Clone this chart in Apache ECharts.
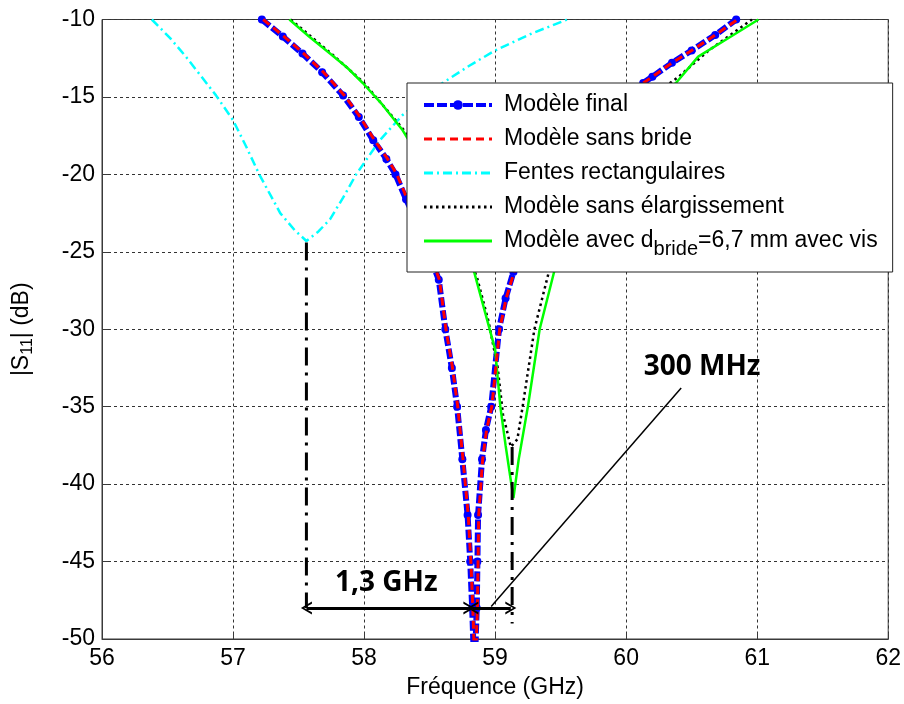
<!DOCTYPE html>
<html>
<head>
<meta charset="utf-8">
<script src="https://cdn.jsdelivr.net/npm/echarts@6/dist/echarts.min.js"></script>
<style>
html,body{margin:0;padding:0;background:#fff;}
#chart{width:904px;height:704px;}
</style>
</head>
<body>
<div id="chart"></div>
<script>
// ---- Data (frequency GHz, |S11| dB) ----
const xTicks = [56, 57, 58, 59, 60, 61, 62];
const yTicks = [-50, -45, -40, -35, -30, -25, -20, -15, -10];

const seriesNames = [
  'Modèle final',
  'Modèle sans bride',
  'Fentes rectangulaires',
  'Modèle sans élargissement',
  'Modèle avec dbride=6,7 mm avec vis'
];

const modeleFinal = [
  [57.22,-10],[57.38,-11.1],[57.53,-12.2],[57.68,-13.4],[57.84,-14.9],[57.96,-16.3],
  [58.07,-17.8],[58.17,-19.0],[58.24,-20],[58.32,-21.6],[58.40,-23.0],[58.48,-24.8],
  [58.57,-26.8],[58.62,-30],[58.67,-32.5],[58.71,-35],[58.75,-38.4],[58.79,-42],
  [58.81,-45],[58.825,-48],[58.835,-50.5],[58.84,-53],
  [58.85,-50.5],[58.86,-48],[58.865,-45],[58.87,-42],[58.90,-38.4],[58.93,-36.5],
  [58.97,-35],[59.03,-30],[59.08,-28],[59.14,-26.3],[59.30,-22.5],[59.50,-19.5],
  [59.75,-17],[60.0,-15.1],[60.13,-14.1],[60.20,-13.7],[60.35,-12.8],[60.50,-12],
  [60.68,-11],[60.84,-10]
];

const modeleSansBride = [
  [57.23,-10],[57.39,-11.1],[57.54,-12.2],[57.69,-13.4],[57.85,-14.9],[57.97,-16.3],
  [58.08,-17.8],[58.18,-19.0],[58.25,-20],[58.33,-21.6],[58.41,-23.0],[58.49,-24.8],
  [58.575,-26.8],[58.625,-30],[58.675,-32.5],[58.715,-35],[58.755,-38.4],[58.795,-42],
  [58.815,-45],[58.83,-48],[58.84,-50.5],[58.845,-53],
  [58.855,-50.5],[58.865,-48],[58.87,-45],[58.875,-42],[58.905,-38.4],[58.935,-36.5],
  [58.975,-35],[59.035,-30],[59.085,-28],[59.145,-26.3],[59.30,-22.5],[59.50,-19.5],
  [59.75,-17],[60.0,-15.1],[60.13,-14.1],[60.20,-13.7],[60.35,-12.8],[60.50,-12],
  [60.68,-11],[60.85,-10]
];

const fentesRect = [
  [56.38,-10],[56.52,-11.2],[56.64,-12.4],[56.76,-13.7],[56.87,-14.9],[57.0,-16.5],
  [57.10,-18.2],[57.20,-20],[57.36,-22.5],[57.47,-23.6],[57.56,-24.3],[57.65,-23.7],
  [57.74,-22.9],[57.84,-21.5],[57.94,-20],[58.03,-18.9],[58.12,-17.8],[58.29,-16.2],
  [58.45,-15.1],[58.60,-14.1],[58.80,-13.0],[59.0,-12],[59.28,-10.9],[59.55,-10]
];

const sansElargissement = [
  [57.44,-10],[57.75,-12.2],[58.00,-14.1],[58.30,-17.1],[58.52,-20.3],[58.72,-23.8],
  [58.86,-26.6],[58.95,-29.5],[59.02,-32.5],[59.06,-35.5],[59.12,-37.6],[59.17,-37.1],
  [59.21,-35],[59.30,-30],[59.41,-26.3],[59.56,-22.5],[59.82,-18.6],[60.08,-15.7],
  [60.40,-13.7],[60.63,-12],[60.96,-10]
];

const avecVis = [
  [57.43,-10],[57.58,-11.1],[57.74,-12.2],[57.87,-13.1],[57.99,-14.1],[58.14,-15.5],
  [58.29,-17.1],[58.50,-20],[58.70,-23.5],[58.84,-26.3],[58.92,-28.8],[59.00,-31.3],
  [59.04,-35],[59.08,-37.5],[59.11,-39.2],[59.14,-40.9],[59.18,-38.4],[59.25,-35],
  [59.34,-30],[59.45,-26.3],[59.60,-22.5],[59.85,-18.8],[60.10,-16],[60.38,-14.1],
  [60.55,-12.4],[60.80,-11.1],[61.01,-10]
];

// ---- Annotations (data units) ----
const markerLine1 = [[57.56,-24.4],[57.56,-48]];
const markerLine2 = [[59.13,-37.6],[59.13,-49]];
const pointerLine = [[60.42,-33.8],[58.97,-47.9]];
const arrow13GHz = [[57.56,-48],[58.80,-48]];
const arrow300MHz = [[58.83,-48],[59.12,-48]];
const annotationLabels = [
  {value:[58.17,-46.4], text:'1,3 GHz'},
  {value:[60.58,-32.45], text:'300 MHz'}
];

const FONT = 'Liberation Sans, Arial, sans-serif';
const FS = 23;
const chevron = 'path://M0,12 L6,0 L12,12 L10,12 L6,3.5 L2,12 Z';
const noSymbol = {color: 'rgba(0,0,0,0)', borderWidth: 0, opacity: 0};

const chart = echarts.init(document.getElementById('chart'), null, {renderer:'canvas'});

const option = {
  backgroundColor: '#ffffff',
  animation: false,
  grid: {
    left: 102, right: 14, top: 19.5, bottom: 63,
    show: true, borderColor: '#3a3a3a', borderWidth: 1, backgroundColor: '#fff'
  },
  xAxis: {
    type: 'value', min: xTicks[0], max: xTicks[xTicks.length-1], interval: 1,
    name: 'Fréquence (GHz)', nameLocation: 'middle', nameGap: 37,
    nameTextStyle: {fontFamily: FONT, fontSize: FS, color: '#000'},
    axisLine: {show: true, lineStyle: {color: '#3a3a3a', width: 1}},
    axisTick: {show: true, inside: true, length: 6, lineStyle: {color: '#3a3a3a'}},
    axisLabel: {fontFamily: FONT, fontSize: FS, color: '#000', margin: 8},
    splitLine: {show: true, lineStyle: {color: '#333', width: 1, type: [3,3]}}
  },
  yAxis: {
    type: 'value', min: yTicks[0], max: yTicks[yTicks.length-1], interval: 5,
    name: '|S{sub|11}| (dB)', nameLocation: 'middle', nameGap: 66, nameRotate: 90,
    nameTextStyle: {
      fontFamily: FONT, fontSize: FS, color: '#000',
      rich: {sub: {fontFamily: FONT, fontSize: 16, color: '#000', padding: [12,0,0,0]}}
    },
    axisLine: {show: true, lineStyle: {color: '#3a3a3a', width: 1}},
    axisTick: {show: true, inside: true, length: 6, lineStyle: {color: '#3a3a3a'}},
    axisLabel: {fontFamily: FONT, fontSize: FS, color: '#000', margin: 7},
    splitLine: {show: true, lineStyle: {color: '#333', width: 1, type: [3,3]}}
  },
  legend: {
    data: [
      {name: seriesNames[0], lineStyle: {width: 4}},
      {name: seriesNames[1], itemStyle: noSymbol},
      {name: seriesNames[2], itemStyle: noSymbol},
      {name: seriesNames[3], itemStyle: noSymbol},
      {name: seriesNames[4], itemStyle: noSymbol}
    ],
    orient: 'vertical',
    left: 407, top: 83, z: 20,
    padding: [10, 15, 13, 15],
    itemWidth: 68, itemHeight: 12, itemGap: 10,
    backgroundColor: '#fff', borderColor: '#222', borderWidth: 1,
    selectedMode: false,
    lineStyle: {width: 3},
    formatter: function(name){
      if (name === seriesNames[4]) return 'Modèle avec d{sub|bride}=6,7 mm avec vis';
      return name;
    },
    textStyle: {
      fontFamily: FONT, fontSize: FS, color: '#000', lineHeight: 24, padding: [0,0,0,7],
      rich: {sub: {fontFamily: FONT, fontSize: 20, color: '#000', padding: [16,0,0,0]}}
    }
  },
  series: [
    {
      name: seriesNames[0], type: 'line', data: modeleFinal, z: 2,
      showSymbol: true, showAllSymbol: true, symbol: 'circle', symbolSize: 8,
      itemStyle: {color: '#0000ff'},
      lineStyle: {color: '#0000ff', width: 6, type: [10,3]}
    },
    {
      name: seriesNames[1], type: 'line', data: modeleSansBride, z: 3,
      showSymbol: false, symbol: 'none',
      itemStyle: {color: '#ff0000'},
      lineStyle: {color: '#ff0000', width: 3, type: [8,5]}
    },
    {
      name: seriesNames[2], type: 'line', data: fentesRect, z: 2,
      showSymbol: false, symbol: 'none',
      itemStyle: {color: '#00ffff'},
      lineStyle: {color: '#00ffff', width: 2.5, type: [9,4,2,4]}
    },
    {
      name: seriesNames[3], type: 'line', data: sansElargissement, z: 2,
      showSymbol: false, symbol: 'none',
      itemStyle: {color: '#000'},
      lineStyle: {color: '#000', width: 2.5, type: [2.5,3.5]}
    },
    {
      name: seriesNames[4], type: 'line', data: avecVis, z: 2,
      showSymbol: false, symbol: 'none',
      itemStyle: {color: '#00ff00'},
      lineStyle: {color: '#00ff00', width: 2.5, type: 'solid'}
    },
    {
      name: 'repere1', type: 'line', data: markerLine1, z: 5, silent: true,
      showSymbol: false, symbol: 'none',
      lineStyle: {color: '#000', width: 3, type: [18,7,3,7]}
    },
    {
      name: 'repere2', type: 'line', data: markerLine2, z: 5, silent: true,
      showSymbol: false, symbol: 'none',
      lineStyle: {color: '#000', width: 3, type: [18,7,3,7]}
    },
    {
      name: 'pointeur', type: 'line', data: pointerLine, z: 5, silent: true,
      showSymbol: false, symbol: 'none',
      lineStyle: {color: '#000', width: 1.5, type: 'solid'},
      markLine: {
        silent: true, animation: false,
        symbol: [chevron, chevron], symbolSize: [13, 11],
        label: {show: false},
        lineStyle: {color: '#000', width: 3, type: 'solid'},
        data: [
          [{coord: arrow13GHz[0]}, {coord: arrow13GHz[1]}],
          [{coord: arrow300MHz[0]}, {coord: arrow300MHz[1]}]
        ]
      }
    },
    {
      name: 'etiquettes', type: 'scatter', z: 6, silent: true,
      symbolSize: 0,
      itemStyle: {opacity: 1, color: '#000'},
      data: annotationLabels.map(a => ({value: a.value, label: {formatter: a.text}})),
      label: {
        show: true, position: 'inside', opacity: 1,
        fontFamily: 'Open Sans, Lato, sans-serif', fontWeight: 'bold', fontSize: 28, color: '#000'
      }
    }
  ]
};
chart.setOption(option);
</script>
</body>
</html>
